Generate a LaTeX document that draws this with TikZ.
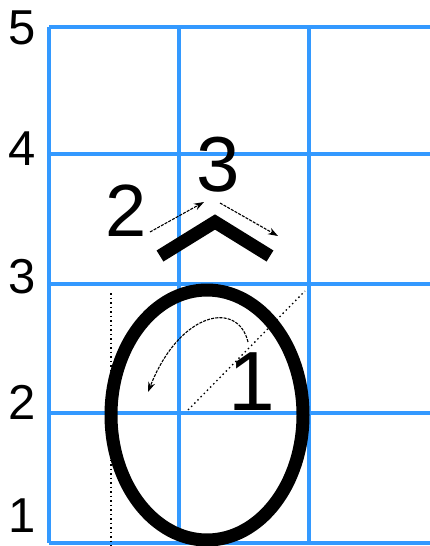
\documentclass[tikz,border=0pt]{standalone}
\usepackage{fontspec}
\setmainfont{Liberation Sans}
\usetikzlibrary{arrows.meta}
\definecolor{gridblue}{RGB}{51,153,255}
\begin{document}
\begin{tikzpicture}[x=1pt,y=-1pt,
  gridline/.style={draw=gridblue,line width=3.2pt},
  axislabel/.style={inner sep=0pt,font=\fontsize{49}{49}\selectfont},
  biglabel/.style={inner sep=0pt},
  guide/.style={line width=1.3pt,dash pattern=on 1.5pt off 3pt},
  hint/.style={line width=1.1pt,dash pattern=on 3pt off 1.2pt,-{Stealth[length=10pt,width=7pt]}},
  stroke/.style={line width=13pt,black}]
\useasboundingbox (0,0) rectangle (430,546);
% grid
\foreach \y in {27,154,284,413,543} \draw[gridline] (49,\y) -- (431,\y);
\foreach \x in {49,179,309} \draw[gridline] (\x,27) -- (\x,543);
% axis labels
\node[axislabel] (l5) at (22,28) {5};
\node[axislabel] (l4) at (22,149) {4};
\node[axislabel] (l3) at (22,277) {3};
\node[axislabel] (l2) at (22,402) {2};
\node[axislabel] (l1) at (22,516) {1};
% guides
\draw[guide] (111,293) -- (111,546);
\draw[guide] (188,410) -- (305,291);
% letter o
\draw[stroke] (207,415) ellipse [x radius=96,y radius=125];
% circumflex
\draw[stroke,line join=miter] (160,256) -- (215,222) -- (270,256);
% stroke numbers
\node[biglabel,font=\fontsize{84}{84}\selectfont] (n1) at (252,382) {1};
\node[biglabel,font=\fontsize{74}{74}\selectfont] (n2) at (126,211) {2};
\node[biglabel,font=\fontsize{78}{78}\selectfont] (n3) at (218,165) {3};
% hint arrows
\coordinate (a1s) at (248,342);
\coordinate (a1e) at (148,392);
\draw[hint] (a1s) .. controls (238,300) and (180,311) .. (a1e);
\coordinate (a2s) at (150,232);
\coordinate (a2e) at (204,202);
\draw[hint] (a2s) -- (a2e);
\coordinate (a3s) at (220,203);
\coordinate (a3e) at (278,236);
\draw[hint] (a3s) -- (a3e);
\end{tikzpicture}
\end{document}
